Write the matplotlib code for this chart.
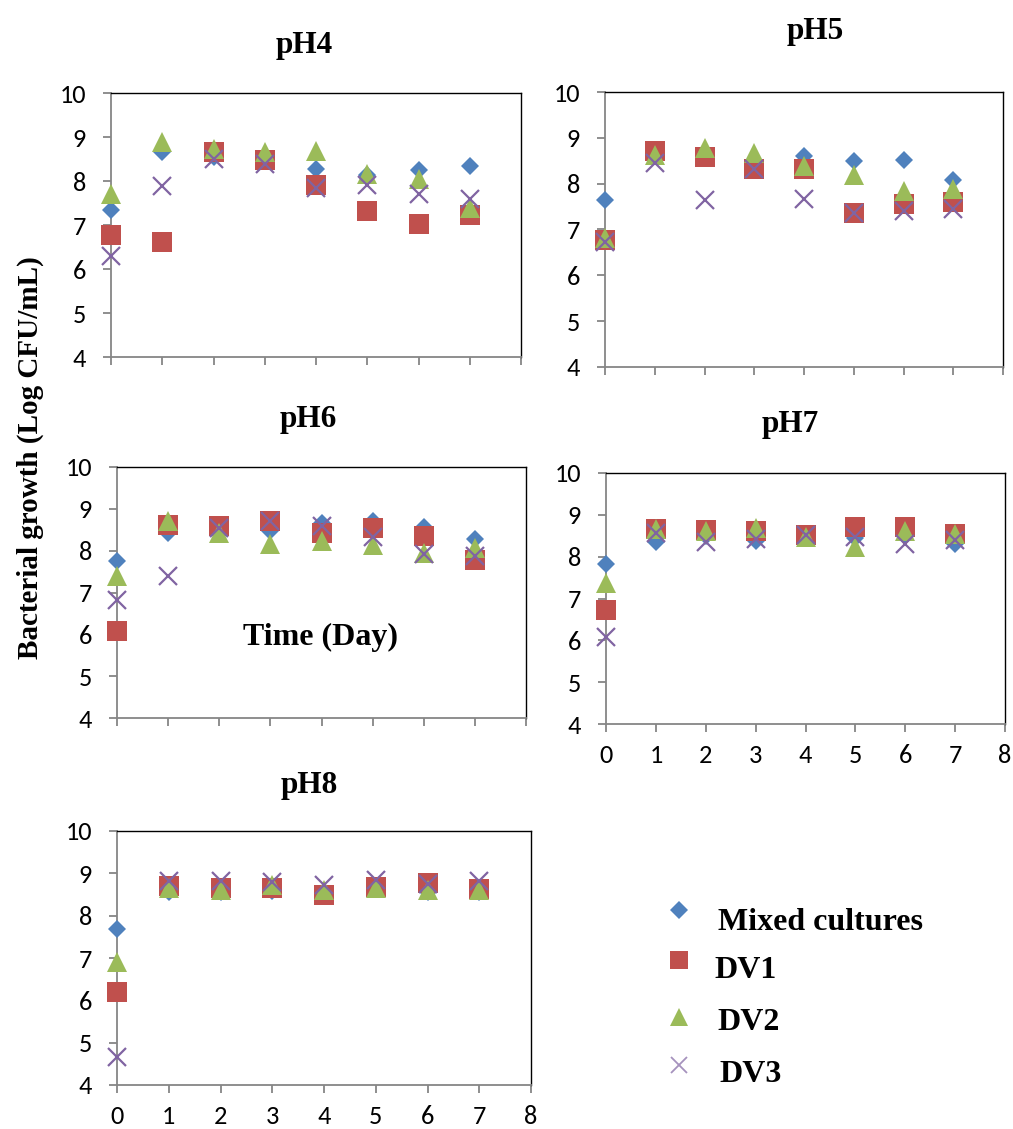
import matplotlib
matplotlib.use("Agg")
import matplotlib.pyplot as plt

W, H = 1013, 1129

days = [0, 1, 2, 3, 4, 5, 6, 7]
series_names = ["Mixed cultures", "DV1", "DV2", "DV3"]

# values (Log CFU/mL)
ph4_mixed = [7.33, 8.66, 8.55, 8.45, 8.28, 8.14, 8.26, 8.34]
ph4_dv1 = [6.77, 6.61, 8.66, 8.47, 7.90, 7.31, 7.02, 7.22]
ph4_dv2 = [7.70, 8.89, 8.73, 8.65, 8.68, 8.17, 8.05, 7.39]
ph4_dv3 = [6.29, 7.88, 8.51, 8.39, 7.83, 7.90, 7.71, 7.60]

ph5_mixed = [7.65, 8.60, 8.60, 8.50, 8.61, 8.49, 8.52, 8.09]
ph5_dv1 = [6.78, 8.71, 8.58, 8.31, 8.32, 7.37, 7.56, 7.61]
ph5_dv2 = [6.81, 8.63, 8.77, 8.67, 8.39, 8.20, 7.83, 7.89]
ph5_dv3 = [6.72, 8.45, 7.64, 8.32, 7.67, 7.37, 7.41, 7.45]

ph6_mixed = [7.76, 8.42, 8.50, 8.46, 8.66, 8.70, 8.57, 8.28]
ph6_dv1 = [6.07, 8.62, 8.60, 8.70, 8.42, 8.54, 8.36, 7.78]
ph6_dv2 = [7.39, 8.70, 8.42, 8.17, 8.22, 8.14, 7.94, 8.06]
ph6_dv3 = [6.81, 7.40, 8.54, 8.70, 8.60, 8.33, 7.93, 7.88]

ph7_mixed = [7.82, 8.35, 8.50, 8.38, 8.45, 8.45, 8.50, 8.31]
ph7_dv1 = [6.72, 8.66, 8.63, 8.62, 8.51, 8.70, 8.71, 8.55]
ph7_dv2 = [7.37, 8.67, 8.61, 8.69, 8.46, 8.22, 8.62, 8.54]
ph7_dv3 = [6.09, 8.57, 8.35, 8.43, 8.51, 8.46, 8.30, 8.39]

ph8_mixed = [7.69, 8.55, 8.55, 8.58, 8.55, 8.62, 8.55, 8.55]
ph8_dv1 = [6.20, 8.69, 8.65, 8.65, 8.49, 8.67, 8.78, 8.63]
ph8_dv2 = [6.90, 8.65, 8.61, 8.72, 8.60, 8.66, 8.61, 8.61]
ph8_dv3 = [4.65, 8.82, 8.83, 8.80, 8.72, 8.84, 8.75, 8.83]

panels = [
    ("pH4", [ph4_mixed, ph4_dv1, ph4_dv2, ph4_dv3]),
    ("pH5", [ph5_mixed, ph5_dv1, ph5_dv2, ph5_dv3]),
    ("pH6", [ph6_mixed, ph6_dv1, ph6_dv2, ph6_dv3]),
    ("pH7", [ph7_mixed, ph7_dv1, ph7_dv2, ph7_dv3]),
    ("pH8", [ph8_mixed, ph8_dv1, ph8_dv2, ph8_dv3]),
]

# layout in pixels: left, right, top, bottom, title x, title y, show x labels
layout = {
    "pH4": (111, 521, 93, 357, 304, 45, False),
    "pH5": (605, 1003, 92, 367, 815, 32, False),
    "pH6": (117, 526, 467, 718, 308, 420, False),
    "pH7": (606, 1005, 473, 724, 790, 425, True),
    "pH8": (117, 531, 831, 1085, 309, 785, True),
}

colors = ["#4F81BD", "#C0504D", "#9BBB59", "#8064A2"]
markers = ["D", "s", "^", "x"]
msizes = [9.5, 14, 14, 13]

tickfont = ["Carlito", "Lato", "DejaVu Sans"]
serif = "Liberation Serif"

fig = plt.figure(figsize=(W / 100, H / 100), dpi=100)


def px_axes(l, r, t, b):
    return fig.add_axes([l / W, 1 - b / H, (r - l) / W, (b - t) / H])


for name, vals in panels:
    l, r, t, b, tx, ty, xlab = layout[name]
    ax = px_axes(l, r, t, b)
    for k in range(4):
        if markers[k] == "x":
            ax.plot(days, vals[k], linestyle="none", marker="x", ms=msizes[k],
                    mew=1.6, color=colors[k], clip_on=False, zorder=3 + k)
        else:
            ax.plot(days, vals[k], linestyle="none", marker=markers[k], ms=msizes[k],
                    mew=0, color=colors[k], clip_on=False, zorder=3 + k)
    ax.set_xlim(0, 8)
    ax.set_ylim(4, 10)
    ax.set_xticks(range(9))
    ax.set_yticks(range(4, 11))
    for s in ["left", "bottom"]:
        ax.spines[s].set_color("#868686")
        ax.spines[s].set_linewidth(1.3)
    for s in ["top", "right"]:
        ax.spines[s].set_color("black")
        ax.spines[s].set_linewidth(1.0)
    ax.tick_params(direction="out", length=6, width=1.3, color="#868686",
                   labelsize=19)
    ax.tick_params(axis="y", pad=12)
    for lab in ax.get_yticklabels():
        lab.set_family(tickfont)
    if xlab:
        for lab in ax.get_xticklabels():
            lab.set_family(tickfont)
        ax.tick_params(axis="x", pad=8.5)
    else:
        ax.set_xticklabels([])
    fig.text(tx / W, 1 - ty / H, name, ha="center", va="center",
             fontsize=22.5, fontweight="bold", family=serif)

fig.text(30 / W, 1 - 458 / H, "Bacterial growth (Log CFU/mL)", rotation=90,
         ha="center", va="center", fontsize=21, fontweight="bold", family=serif)
fig.text(320 / W, 1 - 637 / H, "Time (Day)", ha="center", va="center",
         fontsize=23, fontweight="bold", family=serif)

# legend drawn by hand to match the loose placement
leg_ax = px_axes(640, 1000, 880, 1100)
leg_ax.set_xlim(640, 1000)
leg_ax.set_ylim(1100, 880)
leg_ax.axis("off")
mark_y = [910, 960, 1017, 1065]
text_pos = [(718, 922), (714, 970), (717, 1023), (719, 1075)]
for k in range(4):
    if markers[k] == "x":
        leg_ax.plot([679], [mark_y[k]], marker="x", ms=12, mew=1.3,
                    color=colors[k], alpha=0.7, linestyle="none")
    else:
        leg_ax.plot([679], [mark_y[k]], marker=markers[k],
                    ms=[9, 13, 13][k], mew=0, color=colors[k], linestyle="none")
    leg_ax.text(text_pos[k][0], text_pos[k][1], series_names[k], ha="left",
                va="center", fontsize=23, fontweight="bold", family=serif)

fig.savefig("out.png", dpi=100)
